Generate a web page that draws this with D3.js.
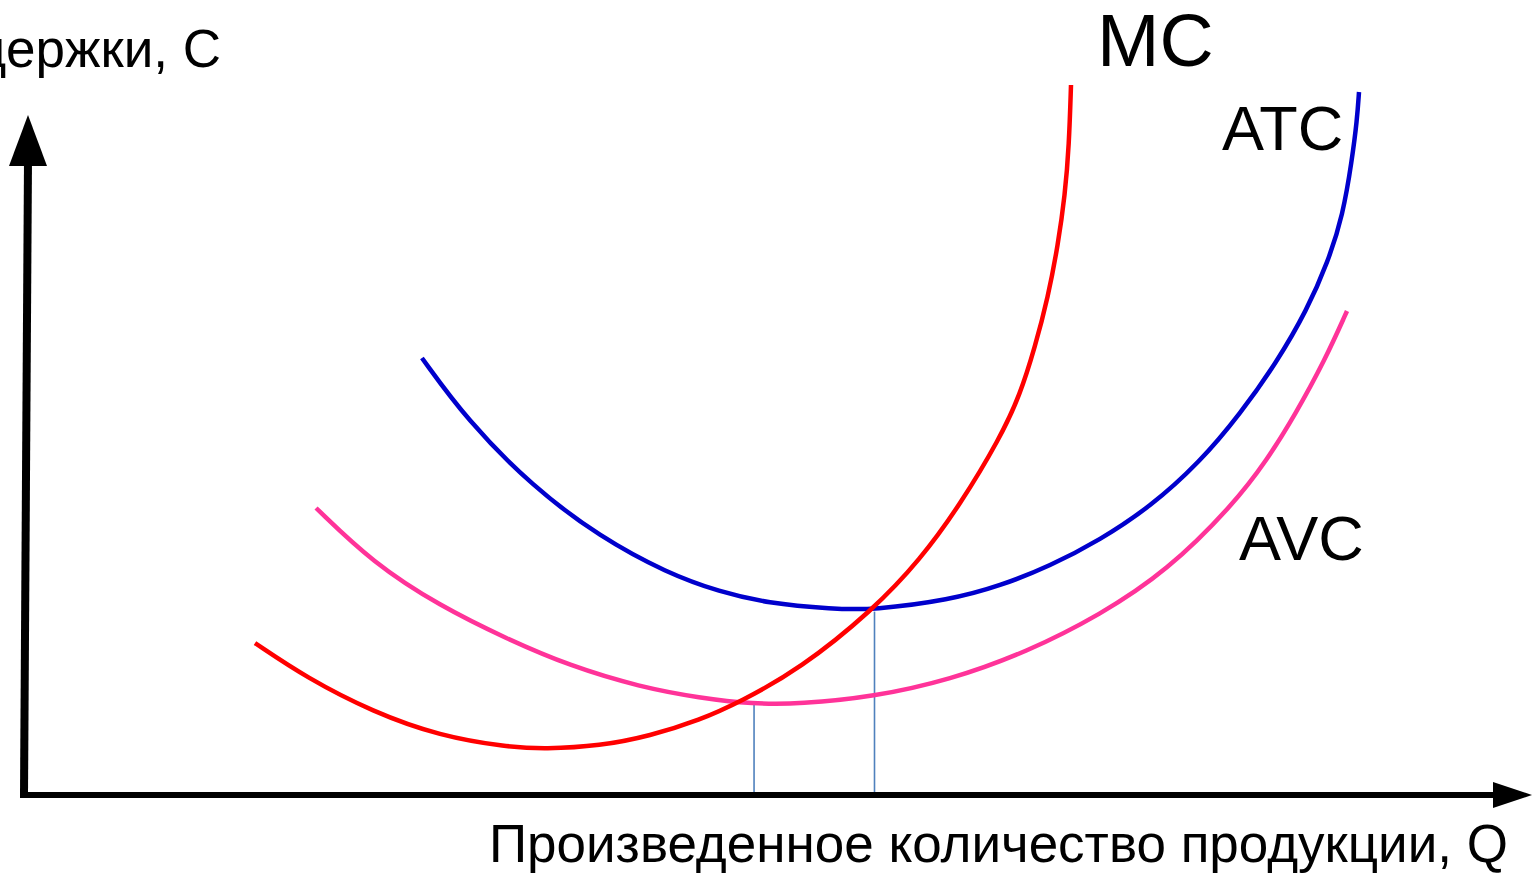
<!DOCTYPE html>
<html><head><meta charset="utf-8">
<script src="https://cdn.jsdelivr.net/npm/d3@7"></script>
<style>html,body{margin:0;padding:0;background:#fff;overflow:hidden}</style>
</head><body>
<svg id="c" width="1539" height="873"></svg>
<script>
// Data (Q = quantity, C = cost), arbitrary units
const mcQ  = [15.4,18.87,23.27,27.73,32.2,34.73,38.4,41.73,45.07,47.73,51.73,56.6,59.73,62.4,65.07,66.4,67.4,68.27,68.93,69.4,69.67,69.8];
const mcC  = [21.71,16.71,11.86,8.43,6.86,6.57,7.0,8.43,10.71,13.29,18.0,26.43,33.57,41.43,51.0,57.14,64.0,71.14,78.57,85.71,92.86,101.43];
const atcQ = [26.53,29.53,33.93,38.4,42.87,46.4,49.53,53.93,56.6,61.73,65.07,68.4,71.73,75.07,78.4,81.07,83.53,85.53,86.93,87.93,88.53,88.87,89.0];
const atcC = [62.43,53.57,44.0,36.86,31.71,29.0,27.43,26.57,26.43,27.86,29.86,32.71,36.43,41.14,47.57,54.43,61.86,69.29,76.14,82.86,90.71,96.43,100.43];
const avcQ = [19.47,23.27,27.73,32.2,36.4,41.07,45.07,48.6,51.73,56.6,61.73,66.87,71.73,76.2,80.6,82.87,84.73,86.73,88.2];
const avcC = [41.0,33.14,27.0,22.29,18.43,15.43,13.86,13.0,13.0,14.0,16.43,20.43,25.71,32.0,41.43,47.86,54.29,62.14,69.14];
const dropQ = [48.67, 56.7];      // quantities at AVC min and ATC min
const dropC = [13.0, 26.2];
const labels = ["MC","ATC","AVC"];
const xTitle = "Произведенное количество продукции, Q";
const yTitle = "Издержки, С";

const svg = d3.select("#c");
const x = d3.scaleLinear().domain([0,100]).range([24,1524]);
const y = d3.scaleLinear().domain([0,100]).range([795,95]);

const line = d3.line().x(d=>x(d[0])).y(d=>y(d[1])).curve(d3.curveBasis);
const zip = (a,b)=>a.map((v,i)=>[v,b[i]]);

// drop lines
svg.selectAll("line.drop").data(zip(dropQ,dropC)).join("line")
  .attr("x1",d=>x(d[0])).attr("x2",d=>x(d[0]))
  .attr("y1",d=>y(d[1])).attr("y2",y(0))
  .attr("stroke","#4f81bd").attr("stroke-width",1.6);

// axes
const x0 = x(0), y0 = y(0);
svg.append("line").attr("x1",x0).attr("y1",y0).attr("x2",x0+4).attr("y2",160)
  .attr("stroke","#000").attr("stroke-width",8);
svg.append("path").attr("d",`M${x0+4},115 L${x0-15},166 L${x0+23},166 Z`).attr("fill","#000");
svg.append("line").attr("x1",x0-4).attr("y1",y0).attr("x2",1500).attr("y2",y0)
  .attr("stroke","#000").attr("stroke-width",6);
svg.append("path").attr("d",`M1532,${y0} L1493,${y0-13} L1493,${y0+13} Z`).attr("fill","#000");

// curves
const curves = [
  {q:avcQ,c:avcC,col:"#ff3399"},
  {q:atcQ,c:atcC,col:"#0000cc"},
  {q:mcQ, c:mcC, col:"#ff0000"}
];
curves.forEach(s=>{
  svg.append("path").attr("d",line(zip(s.q,s.c))).attr("fill","none")
    .attr("stroke",s.col).attr("stroke-width",4.5);
});

// labels
const font = "Liberation Sans, Arial, sans-serif";
svg.append("text").attr("x",1097).attr("y",66).attr("font-size",75).attr("font-family",font).text(labels[0]);
svg.append("text").attr("x",1222).attr("y",150).attr("font-size",63).attr("font-family",font).text(labels[1]);
svg.append("text").attr("x",1239).attr("y",560).attr("font-size",63).attr("font-family",font).text(labels[2]);
svg.append("text").attr("x",1508).attr("y",862).attr("text-anchor","end").attr("font-size",53).attr("font-family",font).text(xTitle);
svg.append("text").attr("x",221).attr("y",67).attr("text-anchor","end").attr("font-size",53).attr("font-family",font).text(yTitle);
</script>
</body></html>
